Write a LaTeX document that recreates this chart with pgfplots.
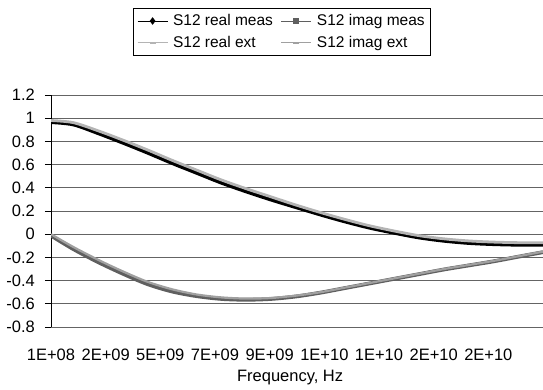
\documentclass[border=0pt]{standalone}
\usepackage{fontspec}
\setmainfont{Liberation Sans}
\usepackage{pgfplots}
\pgfplotsset{compat=1.18}
\definecolor{realext}{RGB}{180,180,180}
\definecolor{imagmeas}{RGB}{95,95,95}
\definecolor{imagext}{RGB}{160,160,160}
\definecolor{gridc}{RGB}{100,100,100}
\pgfplotsset{legend image code/.code={\draw[mark repeat=2,mark phase=2,#1] plot coordinates {(0bp,0bp)(15bp,0bp)(30bp,0bp)};}}
\begin{document}
\fontsize{16.5bp}{19.8bp}\selectfont
\begin{tikzpicture}
\path[use as bounding box] (0,0) rectangle (543bp,390bp);
\begin{axis}[
  at={(51bp,63bp)}, anchor=south west,
  scale only axis, width=492bp, height=232bp,
  xmin=0.1, xmax=20, ymin=-0.8, ymax=1.2,
  axis x line=bottom, axis y line=left, axis line style={-},
  x axis line style={draw=gridc, line width=0.8bp},
  y axis line style={draw=black, line width=0.8bp},
  xtick={0.1,2.311,4.522,6.733,8.944,11.156,13.367,15.578,17.789},
  xticklabels={1E+08,2E+09,5E+09,7E+09,9E+09,1E+10,1E+10,2E+10,2E+10},
  ytick={-0.8,-0.6,-0.4,-0.2,0,0.2,0.4,0.6,0.8,1,1.2},
  yticklabels={-0.8,-0.6,-0.4,-0.2,0,0.2,0.4,0.6,0.8,1,1.2},
  ymajorgrids, major grid style={draw=gridc, line width=0.8bp},
  xtick style={draw=none},
  ytick style={draw=black, line width=0.8bp},
  tick align=outside, major tick length=6bp,
  tick label style={font=\fontsize{16.5bp}{19.8bp}\selectfont},
  xticklabel style={anchor=center, yshift=-22bp},
  yticklabel style={anchor=east, inner sep=0pt, xshift=-10bp},
  xlabel={Frequency, Hz},
  xlabel style={at={(axis description cs:0.486,0)}, anchor=center, yshift=-51bp,
    font=\fontsize{16.5bp}{19.8bp}\selectfont},
  legend columns=2,
  legend style={at={(0.166,1.376)}, anchor=north west, draw=black, line width=0.8bp,
    font=\fontsize{15.5bp}{18.6bp}\selectfont, row sep=4bp, inner xsep=4bp, inner ysep=4bp,
    /tikz/every odd column/.append style={column sep=3bp},
    /tikz/every even column/.append style={column sep=6bp}},
  legend cell align=left,
]
\addlegendimage{black, line width=1bp, mark=diamond*, mark size=3bp}
\addlegendentry{S12 real meas}
\addlegendimage{imagmeas, line width=1bp, mark=square*, mark size=2.5bp}
\addlegendentry{S12 imag meas}
\addlegendimage{realext, line width=1bp, mark=-, mark size=3bp, mark options={line width=2bp}}
\addlegendentry{S12 real ext}
\addlegendimage{imagext, line width=1bp, mark=-, mark size=3bp, mark options={line width=2bp}}
\addlegendentry{S12 imag ext}

% S12 real meas
\addplot[black, line width=3.5bp, smooth, forget plot] coordinates {
(0.1,0.965)(1,0.945)(2,0.870)(3,0.788)(4,0.702)(5,0.612)(6,0.527)(7,0.442)
(8,0.367)(9,0.297)(10,0.232)(11,0.168)(12,0.108)(13,0.054)(14,0.010)
(15,-0.030)(16,-0.058)(17,-0.077)(18,-0.087)(19,-0.092)(20,-0.092)};
% S12 imag meas
\addplot[imagmeas, line width=3.8bp, smooth, forget plot] coordinates {
(0.1,-0.012)(1,-0.128)(2,-0.240)(3,-0.340)(4,-0.430)(5,-0.494)(6,-0.534)
(7,-0.558)(8,-0.565)(9,-0.558)(10,-0.537)(11,-0.504)(12,-0.464)(13,-0.424)
(14,-0.384)(15,-0.344)(16,-0.304)(17,-0.269)(18,-0.234)(19,-0.194)(20,-0.155)};
% S12 real ext
\addplot[realext, line width=2.8bp, smooth, forget plot] coordinates {
(0.1,0.980)(1,0.962)(2,0.892)(3,0.812)(4,0.727)(5,0.637)(6,0.552)(7,0.467)
(8,0.392)(9,0.322)(10,0.252)(11,0.187)(12,0.127)(13,0.072)(14,0.027)
(15,-0.013)(16,-0.040)(17,-0.058)(18,-0.068)(19,-0.073)(20,-0.073)};
% S12 imag ext
\addplot[imagext, line width=2.2bp, smooth, forget plot] coordinates {
(0.1,0.000)(1,-0.110)(2,-0.220)(3,-0.320)(4,-0.410)(5,-0.475)(6,-0.520)
(7,-0.545)(8,-0.555)(9,-0.550)(10,-0.530)(11,-0.500)(12,-0.460)(13,-0.420)
(14,-0.380)(15,-0.340)(16,-0.300)(17,-0.265)(18,-0.230)(19,-0.190)(20,-0.150)};
\end{axis}
\end{tikzpicture}
\end{document}
